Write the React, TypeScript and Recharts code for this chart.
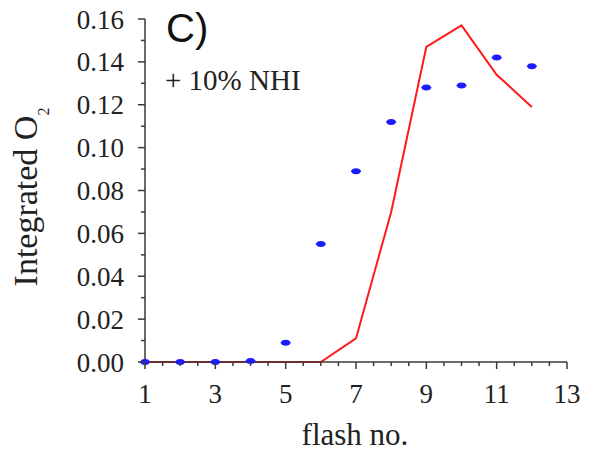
import { ComposedChart, Line, Scatter, XAxis, YAxis, Customized } from "recharts";

// flash number, measured O2 (blue points), model curve (red line)
const flashes = [1, 2, 3, 4, 5, 6, 7, 8, 9, 10, 11, 12];
const measured = [0, 0, 0, 0.0005, 0.009, 0.055, 0.089, 0.112, 0.128, 0.129, 0.142, 0.138];
const model = [0, 0, 0, 0, 0, 0, 0.011, 0.07, 0.147, 0.157, 0.134, 0.119];

const xMajor = [1, 3, 5, 7, 9, 11, 13];
const xTicks = [1, 1.5, 2, 2.5, 3, 3.5, 4, 4.5, 5, 5.5, 6, 6.5, 7, 7.5, 8, 8.5, 9, 9.5, 10, 10.5, 11, 11.5, 12, 12.5, 13];
const yMajor = ["0.00", "0.02", "0.04", "0.06", "0.08", "0.10", "0.12", "0.14", "0.16"];
const yTicks = [0, 0.01, 0.02, 0.03, 0.04, 0.05, 0.06, 0.07, 0.08, 0.09, 0.1, 0.11, 0.12, 0.13, 0.14, 0.15, 0.16];

const rows = flashes.map((f, i) => ({ flash: f, measured: measured[i], model: model[i] }));

const SERIF = "'Liberation Serif', 'Times New Roman', serif";
const AXIS = "#3a3a3a";
const X_TICK = 7;
const X_MARGIN = 15;
const Y_TICK = 7;
const Y_MARGIN = 14;

function XTick({ x, y, payload }: any) {
  const v = payload.value;
  const major = xMajor.includes(v);
  const axisY = y - X_TICK - X_MARGIN;
  return (
    <g>
      <line x1={x} x2={x} y1={axisY} y2={axisY + (major ? 7 : 4)} stroke={AXIS} strokeWidth={1.5} />
      {major && (
        <text x={x} y={y} dy="0.71em" textAnchor="middle" fontFamily={SERIF} fontSize={27} fill="#222">
          {v}
        </text>
      )}
    </g>
  );
}

function YTick({ x, y, payload }: any) {
  const label = payload.value.toFixed(2);
  const major = yMajor.includes(label);
  const axisX = x + Y_TICK + Y_MARGIN;
  return (
    <g>
      <line x1={axisX} x2={axisX - (major ? 7 : 4)} y1={y} y2={y} stroke={AXIS} strokeWidth={1.5} />
      {major && (
        <text x={x} y={y} dy="0.355em" textAnchor="end" fontFamily={SERIF} fontSize={27} fill="#222">
          {label}
        </text>
      )}
    </g>
  );
}

/* звёздочка-маркер измеренных точек */
function Star({ cx, cy }: any) {
  if (cx == null || cy == null) return null;
  return (
    <g>
      <ellipse cx={cx} cy={cy} rx={4.5} ry={3} fill="#1c1cff" />
      <line x1={cx - 5} x2={cx + 5} y1={cy} y2={cy} stroke="#1c1cff" strokeWidth={1.5} />
    </g>
  );
}

function Annotations() {
  return (
    <g>
      <text
        transform="translate(37,197) rotate(-90)"
        textAnchor="middle"
        fontFamily={SERIF}
        fontSize={34}
        fill="#222"
      >
        Integrated O
        <tspan fontSize={16} dy={12}>
          2
        </tspan>
      </text>
      <text x={355} y={445} textAnchor="middle" fontFamily={SERIF} fontSize={31} fill="#222">
        flash no.
      </text>
      <text x={166} y={42} fontFamily="'Liberation Sans', Arial, sans-serif" fontSize={40} fill="#111">
        C)
      </text>
      <text x={165} y={90} fontFamily={SERIF} fontSize={29} fill="#222">
        + 10% NHI
      </text>
    </g>
  );
}

export default function App() {
  return (
    <div style={{ position: "absolute", left: 0, top: 0, width: 590, height: 451, background: "#fff" }}>
      <ComposedChart width={590} height={451} data={rows} margin={{ top: 19, right: 23, bottom: 0, left: 0 }}>
        <XAxis
          dataKey="flash"
          type="number"
          domain={[1, 13]}
          ticks={xTicks}
          interval={0}
          height={89}
          tickSize={X_TICK}
          tickMargin={X_MARGIN}
          tickLine={false}
          tick={<XTick />}
          axisLine={{ stroke: AXIS, strokeWidth: 1.5 }}
        />
        <YAxis
          type="number"
          domain={[0, 0.16]}
          ticks={yTicks}
          interval={0}
          width={145}
          tickSize={Y_TICK}
          tickMargin={Y_MARGIN}
          tickLine={false}
          tick={<YTick />}
          axisLine={{ stroke: AXIS, strokeWidth: 1.5 }}
        />
        <Line
          dataKey="model"
          type="linear"
          stroke="#ff1a1a"
          strokeWidth={2}
          dot={false}
          isAnimationActive={false}
        />
        <Scatter dataKey="measured" fill="#1c1cff" shape={<Star />} isAnimationActive={false} />
        <Customized component={Annotations} />
      </ComposedChart>
    </div>
  );
}
